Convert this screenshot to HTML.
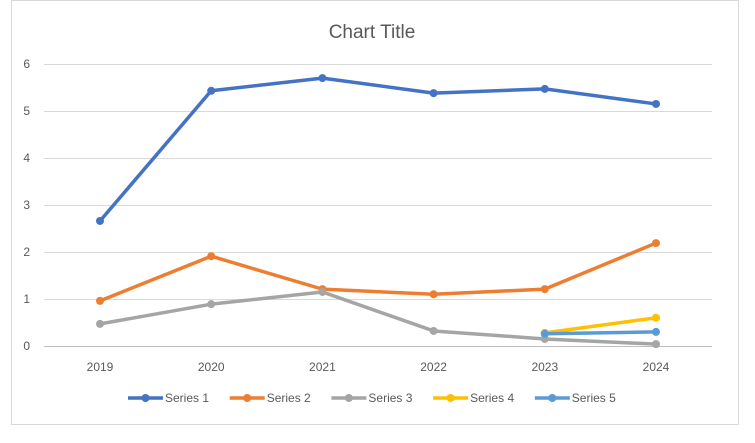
<!DOCTYPE html>
<html><head><meta charset="utf-8"><style>
body{margin:0;background:#fff;}
svg{display:block;font-family:"Liberation Sans",sans-serif;}
</style></head><body>
<svg id="chart" width="755" height="443">
<rect x="11.5" y="0.5" width="727" height="424" fill="#fff" stroke="#d9d9d9"/>
<text x="372" y="38" text-anchor="middle" font-size="19" fill="#595959">Chart Title</text>
<g id="grid"></g><g id="axes"></g><g id="series"></g><g id="legend"></g>
</svg>
<script>
const categories=["2019","2020","2021","2022","2023","2024"];
const yTicks=[0,1,2,3,4,5,6];
const seriesNames=["Series 1","Series 2","Series 3","Series 4","Series 5"];
const colors=["#4472c4","#ed7d31","#a5a5a5","#ffc000","#5b9bd5"];
const s1=[2.66,5.43,5.70,5.38,5.47,5.15];
const s2=[0.96,1.91,1.21,1.10,1.21,2.19];
const s3=[0.47,0.89,1.15,0.32,0.15,0.04];
const s4=[null,null,null,null,0.28,0.60];
const s5=[null,null,null,null,0.26,0.30];
const seriesData=[s1,s2,s3,s4,s5];
const NS="http://www.w3.org/2000/svg";
function X(i){return 100+i*111.2;}
function Y(v){return 346-v*47;}
function mk(tag,attrs,parent){const e=document.createElementNS(NS,tag);for(const k in attrs)e.setAttribute(k,attrs[k]);parent.appendChild(e);return e;}
const grid=document.getElementById('grid'),axes=document.getElementById('axes'),ser=document.getElementById('series'),leg=document.getElementById('legend');
yTicks.forEach(t=>{
 const l=mk('line',{x1:44,x2:712,y1:Y(t)+0.5,y2:Y(t)+0.5,stroke:t===0?'#bfbfbf':'#d9d9d9','stroke-width':1},grid);
 
 
 const tx=mk('text',{x:30,y:Y(t)+4,'text-anchor':'end','font-size':12,fill:'#595959'},axes);
 tx.textContent=t;
 
 
});
categories.forEach((c,i)=>{
 const tx=mk('text',{x:X(i),y:371,'text-anchor':'middle','font-size':12,fill:'#595959'},axes);
 tx.textContent=c;
 
 
});
seriesData.forEach((d,si)=>{
 const g=mk('g',{},ser);
 
 
 let pts=[];d.forEach((v,i)=>{if(v!==null)pts.push([X(i),Y(v)]);});
 const p=mk('polyline',{points:pts.map(p=>p.join(',')).join(' '),fill:'none',stroke:colors[si],'stroke-width':3.5,'stroke-linejoin':'round','stroke-linecap':'round'},g);
 
 
 pts.forEach((q,k)=>{
  const c=mk('circle',{cx:q[0],cy:q[1],r:4,fill:colors[si]},g);
  
  
 });
});
seriesNames.forEach((n,i)=>{
 const x0=128+i*101.7;
 const g=mk('g',{},leg);
 
 
 mk('line',{x1:x0,x2:x0+35,y1:398,y2:398,stroke:colors[i],'stroke-width':3.5},g);
 mk('circle',{cx:x0+17.5,cy:398,r:4,fill:colors[i]},g);
 const t=mk('text',{x:x0+37,y:402,'font-size':12,fill:'#595959'},g);
 t.textContent=n;
});
</script>
</body></html>
